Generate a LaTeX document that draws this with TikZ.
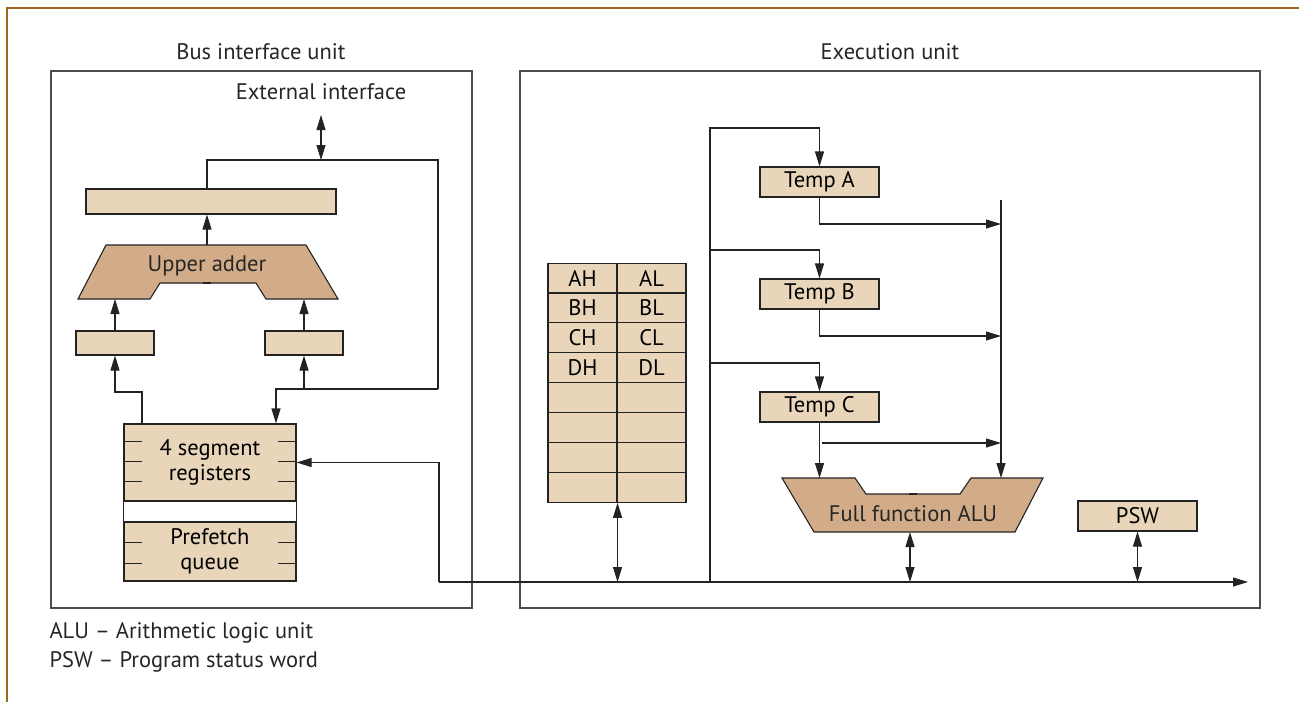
\documentclass[tikz,border=0pt]{standalone}
\usepackage{fontspec}
\setmainfont{PT Sans}
\usetikzlibrary{positioning,calc,arrows.meta}
\definecolor{regfill}{RGB}{232,213,186}
\definecolor{addfill}{RGB}{210,172,136}
\definecolor{framec}{RGB}{160,102,30}
\definecolor{linec}{RGB}{35,35,35}
\tikzset{
  unit/.style={rectangle, draw=black!70, line width=1.1pt},
  reg/.style={rectangle, draw=linec, line width=1.1pt, fill=regfill, inner sep=0pt, text centered},
  adder/.style={draw=linec, line width=1.1pt, fill=addfill},
  txt/.style={inner sep=0pt, text=black!85},
  tick/.style={draw=linec, line width=1pt}
}

\begin{document}
\begin{tikzpicture}[x=1pt, y=-1pt, line width=1.1pt, draw=linec,
  >={Triangle[length=15pt,width=9pt]}, font=\fontsize{22.5}{24.5}\selectfont]
\useasboundingbox (0,0) rectangle (1299,702);
\draw[framec, line width=2.5pt] (7,702) -- (7,8) -- (1299,8);

% the two units
\node[unit, minimum width=421, minimum height=537] (biu) at (261.5,339.5) {};
\node[txt] (biulab) at (261,52) {Bus interface unit};
\node[unit, minimum width=740, minimum height=537] (eu) at (890,339.5) {};
\node[txt] (eulab) at (890,52) {Execution unit};

% bus interface unit
\node[txt] (ext) at (321,92) {External interface};
\node[reg, minimum width=250, minimum height=25] (wide) at (211,201.5) {};
\draw[adder] (106,245) -- (306,245) -- (338,299) -- (266,299) -- (256,283)
  -- (160,283) -- (150,299) -- (78,299) -- cycle;
\draw[line width=2pt] (203,283) -- (211,283);
\node[txt] (ua) at (207,266) {Upper adder};
\coordinate (ua-t) at (207,245);
\coordinate (ua-l) at (115,299);
\coordinate (ua-r) at (304,299);
\node[reg, minimum width=78, minimum height=24] (lbox) at (115,343) {};
\node[reg, minimum width=78, minimum height=24] (rbox) at (304,343) {};
\node[reg, minimum width=172, minimum height=77, align=center] (seg) at (210,462.5)
  {4 segment\\registers};
\node[reg, minimum width=172, minimum height=59, align=center] (pf) at (210,551.5)
  {Prefetch\\queue};
\draw (seg.south west) -- (pf.north west);
\draw (seg.south east) -- (pf.north east);
\foreach \y in {441,461,481,542,563}{
  \draw[tick] (124,\y) -- ++(18,0);
  \draw[tick] (296,\y) -- ++(-18,0);
}

\coordinate (exttop) at (321,115);
\coordinate (extbus) at (321,160);
\coordinate (loopr) at (438,160);
\coordinate (busB) at (438,389);
\coordinate (rsplit) at (276,389);
\coordinate (lsplit) at (142,392);
\coordinate (bus-w) at (439,582);
\coordinate (bus-e) at (1248,582);

\draw[<->] (exttop) -- (extbus);
\draw (wide.north -| ua-t) |- (loopr) -- (busB);
\draw[->] (busB) -- (rsplit) -- (seg.north -| rsplit);
\draw[->] (rbox.south |- rsplit) -- (rbox.south);
\draw[->] (seg.north -| lsplit) -- (lsplit) -| (lbox.south);
\draw[->] (lbox.north) -- (ua-l);
\draw[->] (rbox.north) -- (ua-r);
\draw[->] (ua-t) -- (wide.south -| ua-t);
\draw[->] (bus-w) |- (seg.east);
\draw[->] (bus-w) -- (bus-e);

% execution unit: register file
\foreach \r/\h/\l in {0/AH/AL,1/BH/BL,2/CH/CL,3/DH/DL,4/{}/{},5/{}/{},6/{}/{},7/{}/{}}{
  \node[reg, minimum width=69, minimum height=29.9] (regh\r) at (582.5,278+29.9*\r) {\h};
  \node[reg, minimum width=69, minimum height=29.9] (regl\r) at (651.5,278+29.9*\r) {\l};
}
\draw[<->] (regh7.south east) -- (regh7.south east |- bus-w);

% temp registers
\node[reg, minimum width=119, minimum height=30] (tA) at (819.5,182) {Temp A};
\node[reg, minimum width=119, minimum height=30] (tB) at (819.5,294) {Temp B};
\node[reg, minimum width=119, minimum height=30] (tC) at (819.5,407) {Temp C};
\coordinate (railtop) at (710,128);
\coordinate (colt) at (1001,200);
\coordinate (tAout) at (819.5,224);
\coordinate (tBout) at (819.5,336);
\coordinate (tCout) at (821.5,443);
\draw[->] (railtop |- bus-w) -- (railtop) -| (tA.north);
\draw[->] (railtop |- 0,250) -| (tB.north);
\draw[->] (railtop |- 0,363) -| (tC.north);
\draw[->] (tA.south) -- (tAout) -- (tAout -| colt);
\draw[->] (tB.south) -- (tBout) -- (tBout -| colt);
\draw[->] (tCout) -- (tCout -| colt);

% ALU
\draw[adder] (782,478) -- (855,478) -- (866,494) -- (960,494) -- (971,478)
  -- (1043,478) -- (1015,532) -- (814,532) -- cycle;
\draw[line width=2pt] (909,494) -- (917,494);
\node[txt] (alu) at (913,514) {Full function ALU};
\coordinate (alu-l) at (819.5,478);
\coordinate (alu-r) at (1001,478);
\coordinate (alu-b) at (910,532);
\draw[->] (tC.south) -- (alu-l);
\draw[->] (colt) -- (alu-r);
\draw[<->] (alu-b) -- (alu-b |- bus-w);

\node[reg, minimum width=119, minimum height=30] (psw) at (1137.5,516) {PSW};
\draw[<->] (psw.south) -- (psw.south |- bus-w);

% legend
\node[txt, anchor=west] (leg1) at (49,633) {ALU – Arithmetic logic unit};
\node[txt, anchor=west] (leg2) at (49,662) {PSW – Program status word};
\end{tikzpicture}
\end{document}
